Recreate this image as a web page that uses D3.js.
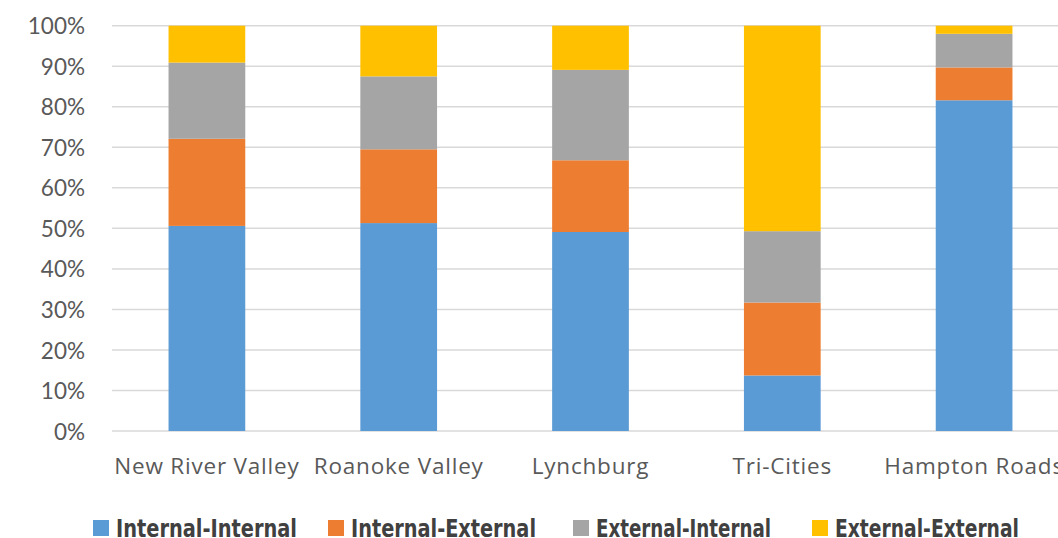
<!DOCTYPE html>
<html>
<head>
<meta charset="utf-8">
<script src="https://cdn.jsdelivr.net/npm/d3@7"></script>
<style>
  html, body { margin: 0; padding: 0; background: #fff; overflow: hidden; }
  svg { display: block; }
</style>
</head>
<body>
<svg id="chart" width="1058" height="538"></svg>
<script>
// Regions along the x axis
const categories = ["New River Valley", "Roanoke Valley", "Lynchburg", "Tri-Cities", "Hampton Roads"];

// Share of trips by type for each region (fractions, each column sums to 1)
const internalInternal = [0.506, 0.513, 0.491, 0.137, 0.816];
const internalExternal = [0.215, 0.182, 0.177, 0.180, 0.081];
const externalInternal = [0.188, 0.180, 0.223, 0.176, 0.083];
const externalExternal = [0.091, 0.125, 0.109, 0.507, 0.020];

const seriesNames = ["Internal-Internal", "Internal-External", "External-Internal", "External-External"];
const seriesColors = ["#5b9bd5", "#ed7d31", "#a5a5a5", "#ffc000"];
const tickValues = [0, 0.1, 0.2, 0.3, 0.4, 0.5, 0.6, 0.7, 0.8, 0.9, 1.0];

const seriesValues = [internalInternal, internalExternal, externalInternal, externalExternal];
const rows = categories.map((c, i) => {
  const r = { region: c };
  seriesNames.forEach((s, k) => { r[s] = seriesValues[k][i]; });
  return r;
});

const svg = d3.select("#chart");

const x = d3.scaleBand()
  .domain(categories)
  .range([111, 1070])
  .paddingInner(0.6)
  .paddingOuter(0.3);

const y = d3.scaleLinear()
  .domain([0, 1])
  .range([431, 25.7]);

// Horizontal gridlines
svg.append("g")
  .selectAll("line")
  .data(tickValues)
  .join("line")
  .attr("x1", 112)
  .attr("x2", 1058)
  .attr("y1", d => y(d))
  .attr("y2", d => y(d))
  .attr("stroke", "#d9d9d9")
  .attr("stroke-width", 1.5);

// Y axis labels
const yAxis = d3.axisLeft(y)
  .tickValues(tickValues)
  .tickFormat(d3.format(".0%"))
  .tickSize(0)
  .tickPadding(0);

svg.append("g")
  .attr("transform", "translate(85,0)")
  .call(yAxis)
  .call(g => g.select(".domain").remove())
  .call(g => g.selectAll("text")
    .attr("fill", "#595959")
    .attr("font-family", "Lato, 'Open Sans', sans-serif")
    .attr("font-size", 22.5)
    .attr("dy", "0.36em"));

// Stacked bars
const stack = d3.stack().keys(seriesNames);
const layers = stack(rows);

svg.append("g")
  .selectAll("g")
  .data(layers)
  .join("g")
  .attr("fill", (d, i) => seriesColors[i])
  .selectAll("rect")
  .data(d => d)
  .join("rect")
  .attr("x", d => x(d.data.region))
  .attr("width", x.bandwidth())
  .attr("y", d => y(d[1]))
  .attr("height", d => y(d[0]) - y(d[1]));

// X axis labels
const xAxis = d3.axisBottom(x).tickSize(0).tickPadding(0);
svg.append("g")
  .attr("transform", "translate(0,474)")
  .call(xAxis)
  .call(g => g.select(".domain").remove())
  .call(g => g.selectAll("text")
    .attr("fill", "#595959")
    .attr("font-family", "'Open Sans', Lato, sans-serif")
    .attr("font-size", 22.5)
    .attr("letter-spacing", 0.8)
    .attr("y", 0)
    .attr("dy", 0));

// Legend
const legendX = [93, 328, 573, 812];
const legendW = [181, 185, 175, 184];
const legend = svg.append("g");
seriesNames.forEach((name, i) => {
  legend.append("rect")
    .attr("x", legendX[i])
    .attr("y", 520)
    .attr("width", 16)
    .attr("height", 16)
    .attr("fill", seriesColors[i]);
  legend.append("text")
    .attr("x", legendX[i] + 23)
    .attr("y", 537)
    .attr("fill", "#404040")
    .attr("font-family", "'Liberation Sans Narrow', 'DejaVu Sans Condensed', 'Liberation Sans', sans-serif")
    .attr("font-weight", "bold")
    .attr("font-size", 25)
    .attr("textLength", legendW[i])
    .attr("lengthAdjust", "spacingAndGlyphs")
    .text(name);
});
</script>
</body>
</html>
